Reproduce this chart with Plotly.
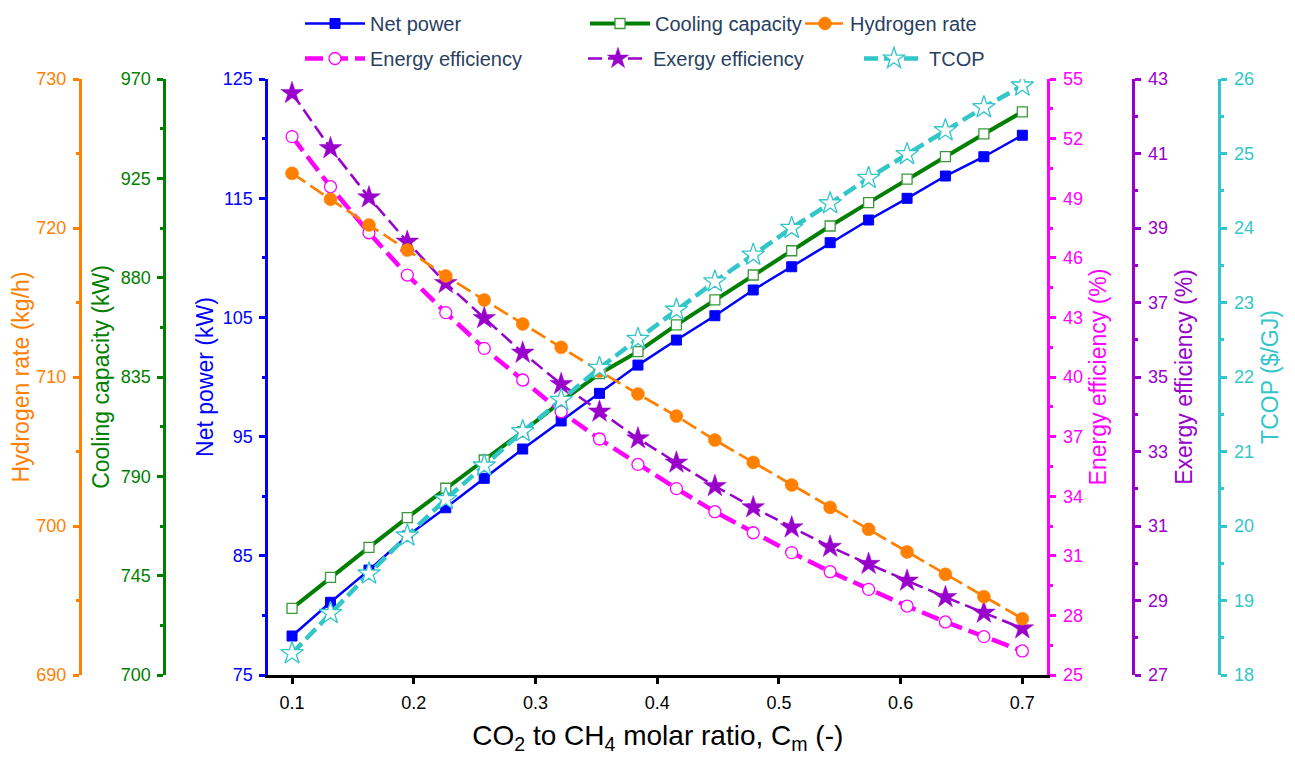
import plotly.graph_objects as go

# ---------------- data ----------------
cm_ratio = [0.1000, 0.1316, 0.1632, 0.1947, 0.2263, 0.2579, 0.2895, 0.3211, 0.3526, 0.3842,
            0.4158, 0.4474, 0.4789, 0.5105, 0.5421, 0.5737, 0.6053, 0.6368, 0.6684, 0.7000]

net_power = [78.27, 81.10, 83.80, 86.66, 89.03, 91.50, 93.96, 96.31, 98.63, 101.00,
             103.10, 105.14, 107.30, 109.25, 111.27, 113.17, 114.99, 116.86, 118.48, 120.28]

cooling_capacity = [730.2, 744.2, 757.8, 771.3, 784.6, 797.4, 810.2, 823.8, 836.5, 846.5,
                    858.6, 869.9, 881.2, 892.2, 903.4, 914.0, 924.6, 934.8, 945.1, 955.1]

hydrogen_rate = [723.67, 721.93, 720.20, 718.52, 716.78, 715.17, 713.56, 711.99, 710.40, 708.86,
                 707.38, 705.77, 704.27, 702.75, 701.25, 699.78, 698.26, 696.76, 695.26, 693.78]

energy_eff = [52.10, 49.58, 47.26, 45.13, 43.24, 41.44, 39.85, 38.25, 36.88, 35.60,
              34.38, 33.22, 32.16, 31.16, 30.20, 29.31, 28.47, 27.67, 26.93, 26.21]

exergy_eff = [42.62, 41.14, 39.82, 38.63, 37.52, 36.58, 35.65, 34.81, 34.07, 33.35,
              32.70, 32.07, 31.50, 30.96, 30.44, 29.98, 29.53, 29.09, 28.67, 28.25]

tcop = [18.29, 18.83, 19.36, 19.87, 20.36, 20.81, 21.27, 21.69, 22.12, 22.51,
        22.90, 23.28, 23.64, 24.00, 24.33, 24.67, 24.99, 25.31, 25.62, 25.91]

x_ticks = [0.1, 0.2, 0.3, 0.4, 0.5, 0.6, 0.7]
x_tick_labels = ["0.1", "0.2", "0.3", "0.4", "0.5", "0.6", "0.7"]

# ---------------- styling ----------------
# page body has an 8px margin, so the figure is 8px smaller and all pixel
# positions below are given relative to the figure's own origin
OFF = 8
W, H = 1295 - OFF, 757 - OFF
FONT = "Liberation Sans, Arial, sans-serif"
BLUE = "#0000FF"
GREEN = "#007F00"
ORANGE = "#FF8000"
MAGENTA = "#FF00FF"
PURPLE = "#9900CC"
CYAN = "#33C6C9"

TICK_FS = 18
TITLE_FS = 23
LEG_FS = 20

x_left, x_right = 268.3 - OFF, 1047.3 - OFF
y_top, y_bot = 79.0 - OFF, 675.0 - OFF
dom_x = [x_left / W, x_right / W]
dom_y = [(H - y_bot) / H, (H - y_top) / H]

fig = go.Figure()

fig.add_trace(go.Scatter(
    x=cm_ratio, y=net_power, name="Net power", yaxis="y", legend="legend",
    mode="lines+markers",
    line=dict(color=BLUE, width=2.5),
    marker=dict(symbol="square", size=10, color=BLUE, line=dict(color=BLUE, width=1))))

fig.add_trace(go.Scatter(
    x=cm_ratio, y=cooling_capacity, name="Cooling capacity", yaxis="y2", legend="legend2",
    mode="lines+markers",
    line=dict(color=GREEN, width=4),
    marker=dict(symbol="square", size=10, color="white", line=dict(color="#3A9A3A", width=1.3))))

fig.add_trace(go.Scatter(
    x=cm_ratio, y=energy_eff, name="Energy efficiency", yaxis="y3", legend="legend4",
    mode="lines+markers",
    line=dict(color=MAGENTA, width=4.5, dash="18px,7px"),
    marker=dict(symbol="circle", size=12, color="white", line=dict(color=MAGENTA, width=1.3))))

fig.add_trace(go.Scatter(
    x=cm_ratio, y=exergy_eff, name="Exergy efficiency", yaxis="y4", legend="legend5",
    mode="lines+markers",
    line=dict(color=PURPLE, width=2.5, dash="14px,6px"),
    marker=dict(symbol="star", size=17, color=PURPLE, line=dict(color=PURPLE, width=0.5))))

fig.add_trace(go.Scatter(
    x=cm_ratio, y=hydrogen_rate, name="Hydrogen rate", yaxis="y5", legend="legend3",
    mode="lines+markers",
    line=dict(color=ORANGE, width=2.7, dash="16px,6px"),
    marker=dict(symbol="circle", size=13, color=ORANGE, line=dict(color=ORANGE, width=0.5))))

fig.add_trace(go.Scatter(
    x=cm_ratio, y=tcop, name="TCOP", yaxis="y6", legend="legend6",
    mode="lines+markers",
    line=dict(color=CYAN, width=4.5, dash="14px,6px"),
    marker=dict(symbol="star", size=17, color="white", line=dict(color=CYAN, width=1.3))))


def yax(color, rng, dtick, title, side, position=None, overlay=True):
    d = dict(
        range=rng, dtick=dtick, tick0=rng[0],
        title=dict(text=title, font=dict(color=color, size=TITLE_FS, family=FONT),
                   standoff=3 if side == "left" else 8),
        tickfont=dict(color=color, size=TICK_FS, family=FONT),
        color=color, automargin=False,
        showline=True, linecolor=color, linewidth=3,
        ticks="outside", ticklen=6, tickwidth=2.5, tickcolor=color,
        ticklabelstandoff=3,
        minor=dict(dtick=dtick / 2, tick0=rng[0], ticks="outside", ticklen=3, tickwidth=2.5,
                   tickcolor=color, showgrid=False),
        showgrid=False, zeroline=False, side=side, domain=dom_y,
    )
    if overlay:
        d["overlaying"] = "y"
    if position is None:
        d["anchor"] = "x"
    else:
        d["anchor"] = "free"
        d["position"] = position
    return d


def leg(px, py, iw=60):
    return dict(
        orientation="h", x=(px - OFF) / W, xanchor="left", y=1 - (py - OFF) / H, yanchor="top",
        font=dict(size=LEG_FS, family=FONT), bgcolor="rgba(0,0,0,0)",
        itemsizing="trace", itemwidth=iw,
    )


ROW1, ROW2 = 4, 39

fig.update_layout(
    width=W, height=H,
    margin=dict(l=0, r=0, t=0, b=0, autoexpand=False),
    paper_bgcolor="white", plot_bgcolor="white",
    font=dict(family=FONT),
    xaxis=dict(
        domain=dom_x, range=[0.0805, 0.7205], automargin=False,
        tickvals=x_ticks, ticktext=x_tick_labels,
        tickfont=dict(size=TICK_FS, color="black", family=FONT),
        title=dict(text="CO<sub>2</sub> to CH<sub>4</sub> molar ratio, C<sub>m</sub> (-)",
                   font=dict(size=28, color="black", family=FONT), standoff=14),
        showline=True, linecolor="black", linewidth=3,
        ticks="outside", ticklen=6, tickwidth=2.5, tickcolor="black",
        ticklabelstandoff=3,
        showgrid=False, zeroline=False, anchor="y",
    ),
    yaxis=yax(BLUE, [75, 125], 10, "Net power (kW)", "left", overlay=False),
    yaxis2=yax(GREEN, [700, 970], 45, "Cooling capacity (kW)", "left", position=(164.3 - OFF) / W),
    yaxis3=yax(MAGENTA, [25, 55], 3, "Energy efficiency (%)", "right"),
    yaxis4=yax(PURPLE, [27, 43], 2, "Exergy efficiency (%)", "right", position=(1133.3 - OFF) / W),
    yaxis5=yax(ORANGE, [690, 730], 10, "Hydrogen rate (kg/h)", "left", position=(80.0 - OFF) / W),
    yaxis6=yax(CYAN, [18, 26], 1, "TCOP ($/GJ)", "right", position=(1219.3 - OFF) / W),
    legend=leg(300, ROW1),
    legend2=leg(585, ROW1),
    legend3=leg(800, ROW1, 40),
    legend4=leg(300, ROW2),
    legend5=leg(583, ROW2),
    legend6=leg(859, ROW2),
    showlegend=True,
)

fig.write_html("out.html")
